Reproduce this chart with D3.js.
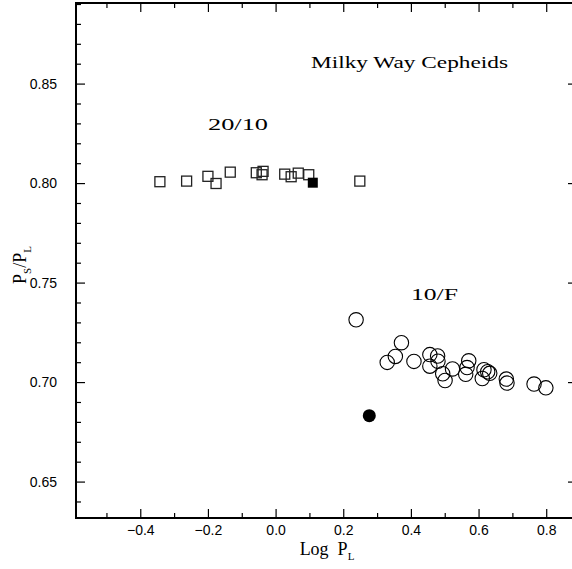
<!DOCTYPE html>
<html><head><meta charset="utf-8">
<script src="https://cdn.jsdelivr.net/npm/d3@7"></script>
<style>body{margin:0;background:#fff}svg{display:block}</style>
</head><body>
<svg id="c" width="572" height="569"></svg>
<script>
// Data: 20/10 (first overtone / second overtone) ratios
const sqX = [-0.342,-0.263,-0.200,-0.176,-0.134,-0.057,-0.037,-0.040,0.027,0.046,0.067,0.098,0.249];
const sqY = [0.8007,0.8010,0.8034,0.7998,0.8055,0.8052,0.8059,0.8042,0.8045,0.8032,0.8050,0.8042,0.8010];
const sqFilledX = [0.110];
const sqFilledY = [0.8002];
// 10/F ratios
const ciX = [0.238,0.372,0.354,0.330,0.409,0.456,0.479,0.480,0.456,0.494,0.501,0.523,0.571,0.566,0.562,0.616,0.627,0.633,0.611,0.682,0.684,0.764,0.799];
const ciY = [0.7313,0.7198,0.7129,0.7099,0.7104,0.7138,0.7131,0.7105,0.7080,0.7042,0.7008,0.7066,0.7107,0.7073,0.7039,0.7062,0.7052,0.7044,0.7018,0.7015,0.6995,0.6990,0.6971];
const ciFilledX = [0.277];
const ciFilledY = [0.6831];
const xTicks = [-0.4,-0.2,0.0,0.2,0.4,0.6,0.8];
const yTicks = [0.65,0.70,0.75,0.80,0.85];
const xDomain = [-0.59, 0.891];
const yDomain = [0.6317, 0.8905];

const svg = d3.select("#c");
const L = 76, R = 577, T = 3, B = 518;
const x = d3.scaleLinear().domain(xDomain).range([L, R]);
const y = d3.scaleLinear().domain(yDomain).range([B, T]);

const fmt = d => d3.format(".1f")(d).replace("-", "\u2212");
const fmtY = d => d3.format(".2f")(d);

const xMinor = d3.range(-0.5, 0.9001, 0.1).map(v => +v.toFixed(2)).filter(v => !xTicks.some(t => Math.abs(t - v) < 1e-6));
const yMinor = d3.range(0.64, 0.8901, 0.01).map(v => +v.toFixed(2)).filter(v => !yTicks.some(t => Math.abs(t - v) < 1e-6));

function axis(gen, tr, ticks, size, labels, fmtf) {
  const g = svg.append("g").attr("transform", tr)
    .call(gen.tickValues(ticks).tickSize(size).tickSizeOuter(0).tickFormat(labels ? fmtf : ""));
  g.select(".domain").remove();
  g.selectAll("line").attr("stroke", "#000").attr("stroke-width", 1.2);
  g.selectAll("text").attr("font-family", "Liberation Sans, Arial, sans-serif").attr("font-size", 14).attr("fill", "#000");
  return g;
}
const gb = axis(d3.axisBottom(x), `translate(0,${B})`, xTicks, -9, true, fmt);
gb.selectAll("text").attr("y", 7).attr("dy", "0.71em");
axis(d3.axisBottom(x), `translate(0,${B})`, xMinor, -5, false);
axis(d3.axisTop(x), `translate(0,${T})`, xTicks, -9, false);
axis(d3.axisTop(x), `translate(0,${T})`, xMinor, -5, false);
const gl = axis(d3.axisLeft(y), `translate(${L},0)`, yTicks, -9, true, fmtY);
gl.selectAll("text").attr("x", -19);
axis(d3.axisLeft(y), `translate(${L},0)`, yMinor, -5, false);
axis(d3.axisRight(y), `translate(${R},0)`, yTicks, -9, false);
axis(d3.axisRight(y), `translate(${R},0)`, yMinor, -5, false);

// frame
svg.append("rect").attr("x", L).attr("y", T).attr("width", R - L).attr("height", B - T)
  .attr("fill", "none").attr("stroke", "#000").attr("stroke-width", 2);

// squares
const S = 10;
svg.append("g").selectAll("rect").data(sqX.map((d, i) => [d, sqY[i]])).join("rect")
  .attr("x", d => x(d[0]) - S / 2).attr("y", d => y(d[1]) - S / 2)
  .attr("width", S).attr("height", S).attr("fill", "none").attr("stroke", "#222").attr("stroke-width", 1.3);
svg.append("g").selectAll("rect").data(sqFilledX.map((d, i) => [d, sqFilledY[i]])).join("rect")
  .attr("x", d => x(d[0]) - S / 2).attr("y", d => y(d[1]) - S / 2)
  .attr("width", S).attr("height", S).attr("fill", "#000");
// circles
svg.append("g").selectAll("circle").data(ciX.map((d, i) => [d, ciY[i]])).join("circle")
  .attr("cx", d => x(d[0])).attr("cy", d => y(d[1])).attr("r", 7.2)
  .attr("fill", "none").attr("stroke", "#000").attr("stroke-width", 1.1);
svg.append("g").selectAll("circle").data(ciFilledX.map((d, i) => [d, ciFilledY[i]])).join("circle")
  .attr("cx", d => x(d[0])).attr("cy", d => y(d[1])).attr("r", 6.5).attr("fill", "#000");

// annotations
const serif = "Liberation Serif, DejaVu Serif, serif";
function txt(s, cx, cy, w, size) {
  svg.append("text").attr("x", cx).attr("y", cy).attr("text-anchor", "middle")
    .attr("font-family", serif).attr("font-size", size).attr("fill", "#000")
    .attr("textLength", w).attr("lengthAdjust", "spacingAndGlyphs").text(s);
}
txt("Milky Way Cepheids", 409.5, 68, 197, 17);
txt("20/10", 238, 130, 60, 17);
txt("10/F", 434.5, 300, 47, 17);

// x axis title
const xt = svg.append("text").attr("x", 327).attr("y", 555).attr("text-anchor", "middle")
  .attr("font-family", serif).attr("font-size", 18).attr("fill", "#000");
xt.append("tspan").text("Log\u00a0\u00a0P");
xt.append("tspan").attr("font-size", 11).attr("dy", 5).text("L");
// y axis title
const yt = svg.append("text").attr("transform", "translate(26,265) rotate(-90)").attr("text-anchor", "middle")
  .attr("font-family", serif).attr("font-size", 18).attr("fill", "#000");
yt.append("tspan").text("P");
yt.append("tspan").attr("font-size", 11).attr("dy", 5).text("S");
yt.append("tspan").attr("dy", -5).text("/P");
yt.append("tspan").attr("font-size", 11).attr("dy", 5).text("L");
</script>
</body></html>
